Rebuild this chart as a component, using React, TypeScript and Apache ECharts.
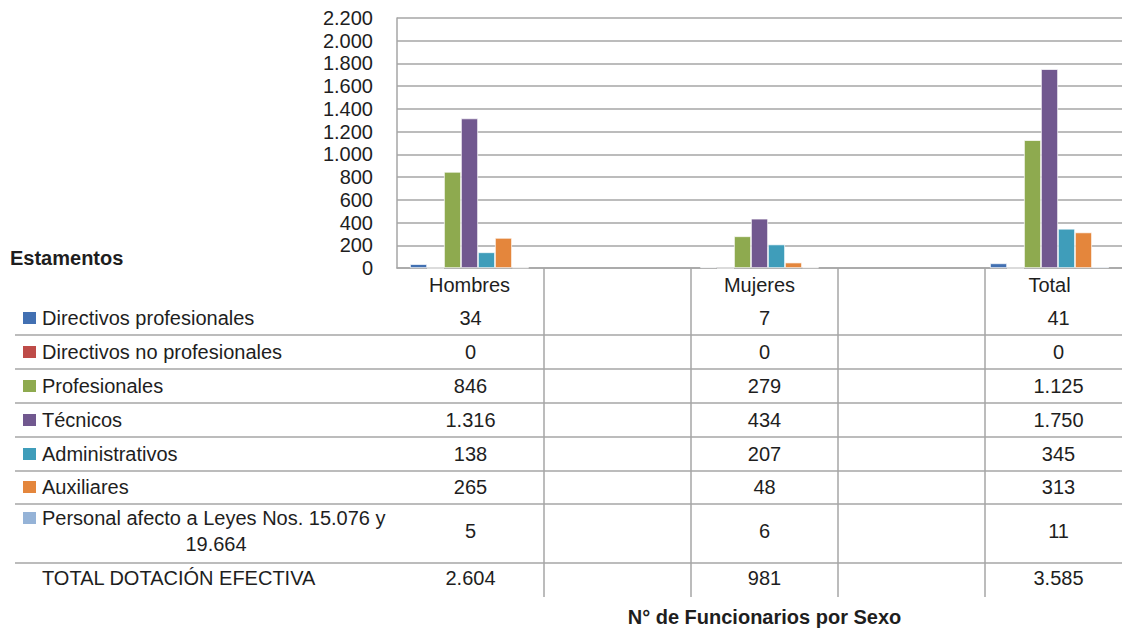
import React, { useEffect, useRef } from "react";
import * as echarts from "echarts";

const categories = ["Hombres", "", "Mujeres", "", "Total"];
const seriesNames = [
  "Directivos profesionales",
  "Directivos no profesionales",
  "Profesionales",
  "Técnicos",
  "Administrativos",
  "Auxiliares",
  "Personal afecto a Leyes Nos. 15.076 y 19.664",
];
const hombres = [34, 0, 846, 1316, 138, 265, 5];
const mujeres = [7, 0, 279, 434, 207, 48, 6];
const total = [41, 0, 1125, 1750, 345, 313, 11];
const yTicks = [0, 200, 400, 600, 800, 1000, 1200, 1400, 1600, 1800, 2000, 2200];
const colors = ["#4270B2", "#BE4B48", "#8EAA4F", "#71588F", "#3F9DBA", "#E4863C", "#95B3D7"];

const FONT = "'Liberation Sans', Arial, sans-serif";
const TXT = "#1E1E1E";
const LINE = "#A6A6A6";

const GRID_LEFT = 397;
const GRID_TOP = 18;
const GRID_H = 250;
const GRID_W = 735;
const W = 1122;
const H = 629;

const fmt = (n: number) => String(n).replace(/\B(?=(\d{3})+(?!\d))/g, ".");

export default function App() {
  const ref = useRef<HTMLDivElement>(null);
  useEffect(() => {
    document.body.style.margin = "0";
    if (!ref.current) return;
    const chart = echarts.init(ref.current, null, { renderer: "svg" });
    const band = GRID_W / categories.length;
    const colCenters = [0, 2, 4].map((i) => GRID_LEFT + band * (i + 0.5));
    const columns = [hombres, mujeres, total];
    const sums = columns.map((c) => c.reduce((a, b) => a + b, 0));

    const rowY = [318, 352, 386, 420, 454, 487, 531, 578];
    const hLines = [335, 369, 403, 437, 471, 504, 563];
    const graphics: any[] = [];
    hLines.forEach((y) =>
      graphics.push({
        type: "line",
        shape: { x1: 15, y1: y, x2: W, y2: y },
        style: { stroke: LINE, lineWidth: 1.5 },
        silent: true,
      })
    );
    for (let k = 1; k <= categories.length; k++) {
      const x = GRID_LEFT + band * k;
      graphics.push({
        type: "line",
        shape: { x1: x, y1: GRID_TOP + GRID_H, x2: x, y2: 597 },
        style: { stroke: LINE, lineWidth: 1.5 },
        silent: true,
      });
    }
    const textEl = (text: string, x: number, y: number, align: string, bold = false) => ({
      type: "text",
      x,
      y,
      style: {
        text,
        fill: TXT,
        font: `${bold ? "bold " : ""}20px ${FONT}`,
        textAlign: align,
        textVerticalAlign: "middle",
      },
      silent: true,
    });
    seriesNames.forEach((name, i) => {
      const y = rowY[i];
      graphics.push({
        type: "rect",
        shape: { x: 23, y: (i === 6 ? 518 : y) - 6, width: 13, height: 12 },
        style: { fill: colors[i] },
        silent: true,
      });
      if (i === 6) {
        graphics.push(textEl("Personal afecto a Leyes Nos. 15.076 y", 42, 518, "left"));
        graphics.push(textEl("19.664", 216, 544, "center"));
      } else {
        graphics.push(textEl(name, 42, y, "left"));
      }
      columns.forEach((col, c) => graphics.push(textEl(fmt(col[i]), colCenters[c], y, "center")));
    });
    graphics.push(textEl("TOTAL DOTACIÓN EFECTIVA", 42, rowY[7], "left"));
    sums.forEach((s, c) => graphics.push(textEl(fmt(s), colCenters[c], rowY[7], "center")));
    graphics.push(textEl("Estamentos", 10, 258, "left", true));
    graphics.push(textEl("N° de Funcionarios por Sexo", GRID_LEFT + GRID_W / 2, 617, "center", true));

    chart.setOption({
      animation: false,
      textStyle: { fontFamily: FONT },
      grid: { left: GRID_LEFT, top: GRID_TOP, width: GRID_W, height: GRID_H, containLabel: false },
      xAxis: {
        type: "category",
        data: categories,
        axisLine: { show: true, lineStyle: { color: LINE, width: 1.5 } },
        axisTick: { show: false },
        axisLabel: { interval: 0, color: TXT, fontSize: 20, fontFamily: FONT, margin: 7 },
      },
      yAxis: {
        type: "value",
        min: yTicks[0],
        max: yTicks[yTicks.length - 1],
        interval: 200,
        axisLine: { show: true, lineStyle: { color: LINE, width: 1.5 } },
        axisTick: { show: false },
        splitLine: { show: true, lineStyle: { color: LINE, width: 1.5 } },
        axisLabel: {
          color: TXT,
          fontSize: 20,
          fontFamily: FONT,
          margin: 24,
          formatter: (v: number) => fmt(v),
        },
      },
      series: seriesNames.map((name, i) => ({
        name,
        type: "bar",
        barGap: "0%",
        barCategoryGap: "18%",
        itemStyle: { color: colors[i], borderColor: "#ffffff", borderWidth: 0.7 },
        data: [hombres[i], "-", mujeres[i], "-", total[i]],
      })),
      graphic: { elements: graphics },
    });
    return () => chart.dispose();
  }, []);
  return <div ref={ref} style={{ width: W, height: H }} />;
}
